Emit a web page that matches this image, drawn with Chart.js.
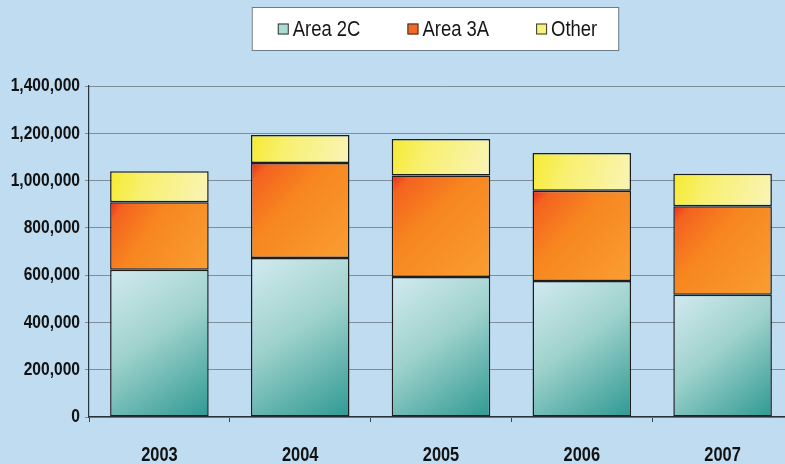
<!DOCTYPE html>
<html>
<head>
<meta charset="utf-8">
<script src="https://cdn.jsdelivr.net/npm/chart.js@4/dist/chart.umd.min.js"></script>
<style>
html,body{margin:0;padding:0;background:#bfdcf1;overflow:hidden;}
#wrap{position:relative;width:800px;height:464px;}
</style>
</head>
<body>
<div id="wrap"><canvas id="c"></canvas></div>
<script>
const categories = ['2003', '2004', '2005', '2006', '2007'];
const area2C = [623000, 672000, 592000, 575000, 517000];
const area3A = [285000, 402000, 429000, 382000, 374000];
const other  = [131000, 119000, 155000, 160000, 138000];
const seriesNames = ['Area 2C', 'Area 3A', 'Other'];

const FONT = "'Liberation Sans', Arial, sans-serif";
const NARROW = 0.82;   // horizontal squeeze to emulate a narrow face
const BAR_PCT = 0.7;

const gradStops = [
  [[0, '#d2eaf0'], [0.45, '#9fd2cc'], [1, '#2f9993']],
  [[0, '#ec2a1e'], [0.1, '#f4621f'], [0.4, '#f7861f'], [1, '#f99e32']],
  [[0, '#f6ea30'], [0.35, '#f8f070'], [1, '#f9f4b8']]
];
const swatch = ['#a9dcd2', '#f26a22', '#f8f27a'];

function barFill(ctx) {
  const chart = ctx.chart;
  const ds = ctx.datasetIndex;
  const xs = chart.scales.x, ys = chart.scales.y;
  if (!chart.chartArea || !xs || !ys || ctx.type !== 'data') return swatch[ds];
  const i = ctx.dataIndex;
  const sets = chart.data.datasets;
  let base = 0;
  for (let k = 0; k < ds; k++) base += sets[k].data[i];
  const top = base + sets[ds].data[i];
  const cw = xs.width / categories.length;
  const cx = xs.getPixelForValue(i);
  const x0 = cx - cw * BAR_PCT / 2, x1 = cx + cw * BAR_PCT / 2;
  const y0 = ys.getPixelForValue(top), y1 = ys.getPixelForValue(base);
  const g = chart.ctx.createLinearGradient(x0, y0, x1, y1);
  gradStops[ds].forEach(s => g.addColorStop(s[0], s[1]));
  return g;
}

const narrowPlugin = {
  id: 'narrowText',
  beforeInit(chart) {
    const c = chart.ctx;
    if (c._narrowed) return;
    const orig = c.fillText.bind(c);
    c.fillText = function (text, x, y, maxWidth) {
      this.save();
      this.translate(x, y);
      this.scale(NARROW, 1);
      orig(text, 0, 0);
      this.restore();
    };
    c._narrowed = true;
  }
};

const bgPlugin = {
  id: 'bg',
  beforeDraw(chart) {
    const c = chart.ctx;
    c.save();
    c.fillStyle = '#bfdcf1';
    c.fillRect(0, 0, chart.width, chart.height);
    c.restore();
  }
};

const legendPlugin = {
  id: 'boxLegend',
  afterDraw(chart) {
    const c = chart.ctx;
    const ca = chart.chartArea;
    c.save();
    c.font = "22.5px " + FONT;
    const box = 11, gap = 4, spacing = 47;
    const labels = chart.data.datasets.map(d => d.label);
    const widths = labels.map(l => c.measureText(l).width * NARROW);
    let total = 0;
    widths.forEach((w, k) => { total += box + gap + w; if (k) total += spacing; });
    const cx = (ca.left + ca.right) / 2 - 3.5;
    let x = cx - total / 2;
    const yMid = 29;
    c.fillStyle = '#ffffff';
    c.strokeStyle = '#6f7a82';
    c.lineWidth = 1;
    c.fillRect(x - 26, 7.5, total + 47, 43);
    c.strokeRect(x - 26 + 0.5, 7.5, total + 47, 43);
    labels.forEach((l, k) => {
      c.fillStyle = swatch[k];
      c.fillRect(x, yMid - box / 2, box, box);
      c.strokeStyle = '#333';
      c.strokeRect(x + 0.5, yMid - box / 2 + 0.5, box - 1, box - 1);
      c.fillStyle = '#151515';
      c.textBaseline = 'middle';
      c.textAlign = 'left';
      c.fillText(l, x + box + gap, yMid + 1);
      x += box + gap + widths[k] + spacing;
    });
    c.restore();
  }
};

const makeSet = (label, data) => ({
  label, data,
  backgroundColor: barFill,
  borderColor: '#1e1e1e',
  borderWidth: 1.5,
  borderSkipped: false,
  barPercentage: BAR_PCT,
  categoryPercentage: 1.0
});

new Chart(document.getElementById('c'), {
  type: 'bar',
  data: {
    labels: categories,
    datasets: [
      makeSet(seriesNames[0], area2C),
      makeSet(seriesNames[1], area3A),
      makeSet(seriesNames[2], other)
    ]
  },
  options: {
    responsive: true,
    maintainAspectRatio: false,
    animation: false,
    layout: { padding: { top: 86, right: 7, left: 0, bottom: 0 } },
    plugins: { legend: { display: false }, tooltip: { enabled: false } },
    scales: {
      x: {
        stacked: true,
        offset: true,
        grid: { display: true, drawOnChartArea: false, offset: true, tickLength: 5, color: '#3a4450', lineWidth: 1 },
        border: { display: true, color: '#2a323a', width: 1.2 },
        ticks: { color: '#111', padding: 21, font: { family: FONT, size: 20, weight: 'bold' } },
        afterFit(s) { s.height = 47; }
      },
      y: {
        stacked: true,
        min: 0, max: 1400000,
        ticks: {
          stepSize: 200000,
          color: '#111',
          padding: 5,
          font: { family: FONT, size: 19, weight: 'bold' },
          callback: v => v.toLocaleString('en-US')
        },
        grid: { color: '#7d8d9a', lineWidth: 1, tickLength: 4 },
        border: { display: true, color: '#2a323a', width: 1.2 },
        afterFit(s) { s.width = 89; }
      }
    }
  },
  plugins: [narrowPlugin, bgPlugin, legendPlugin]
});
</script>
</body>
</html>
